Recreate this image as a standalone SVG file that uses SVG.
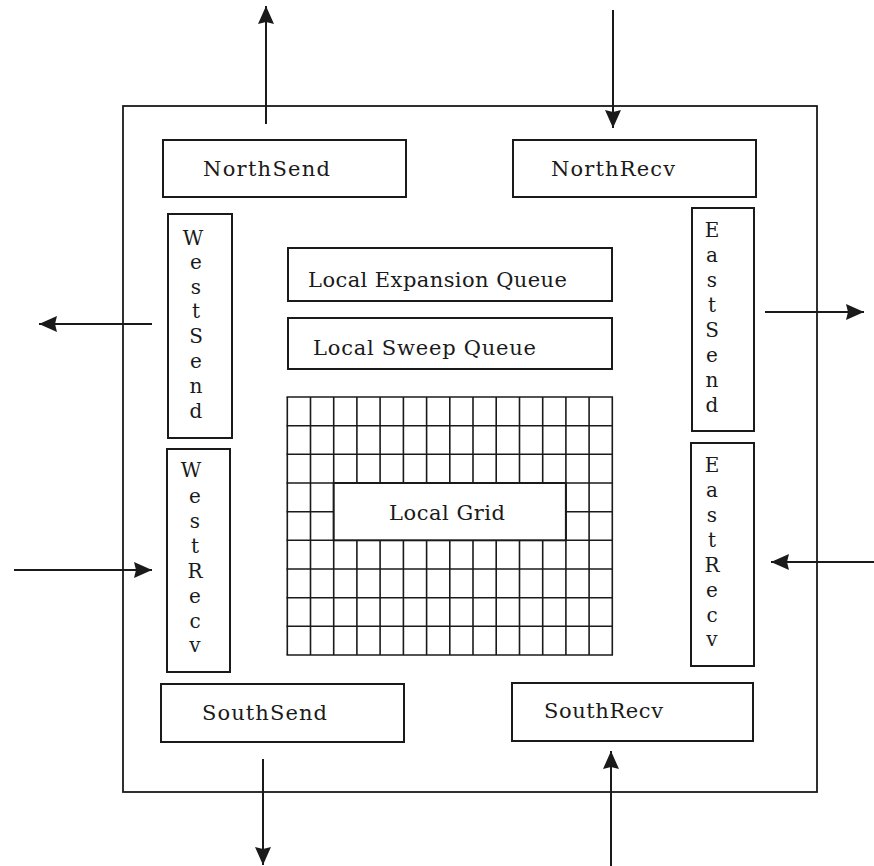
<svg xmlns="http://www.w3.org/2000/svg" width="874" height="866" viewBox="0 0 874 866">
<style>
.box{fill:#fff;stroke:#1a1a1a;stroke-width:2}
.outer{fill:none;stroke:#1a1a1a;stroke-width:1.8}
.grid line{stroke:#1a1a1a;stroke-width:1.6}
.lbl{font-family:"DejaVu Serif","Liberation Serif",serif;font-size:21px;fill:#1a1a1a}
.vl{font-family:"DejaVu Serif","Liberation Serif",serif;font-size:20px;fill:#1a1a1a;text-anchor:middle}
.conn line{stroke:#1a1a1a;stroke-width:2;marker-end:url(#ah)}
</style>
<defs>
<marker id="ah" markerUnits="userSpaceOnUse" markerWidth="19" markerHeight="16" refX="18" refY="8" orient="auto">
<path d="M0,0 L18,8 L0,16 L2,8 z" fill="#1a1a1a"/>
</marker>
</defs>
<rect width="874" height="866" fill="#fff"/>
<rect id="node" class="outer" x="123" y="106" width="694" height="686"/>

<g id="NorthSend"><rect class="box" x="163" y="140" width="243" height="57"/><text class="lbl" x="203" y="176" textLength="127">NorthSend</text></g>
<g id="NorthRecv"><rect class="box" x="513" y="140" width="243" height="57"/><text class="lbl" x="551" y="176" textLength="124">NorthRecv</text></g>
<g id="SouthSend"><rect class="box" x="161" y="684" width="243" height="58"/><text class="lbl" x="202" y="720" textLength="125">SouthSend</text></g>
<g id="SouthRecv"><rect class="box" x="512" y="683" width="241" height="58"/><text class="lbl" x="544" y="718" textLength="119">SouthRecv</text></g>

<g id="LocalExpansionQueue"><rect class="box" x="288" y="248" width="324" height="53"/><text class="lbl" x="308" y="287" textLength="259">Local Expansion Queue</text></g>
<g id="LocalSweepQueue"><rect class="box" x="288" y="318" width="324" height="51"/><text class="lbl" x="313" y="355" textLength="223">Local Sweep Queue</text></g>

<g id="WestSend"><rect class="box" x="168" y="214" width="64" height="224"/>
<text class="vl" x="193" y="245">W</text><text class="vl" x="196" y="269">e</text><text class="vl" x="196" y="294">s</text><text class="vl" x="196" y="318">t</text><text class="vl" x="196" y="343">S</text><text class="vl" x="196" y="368">e</text><text class="vl" x="196" y="393">n</text><text class="vl" x="196" y="418">d</text></g>
<g id="WestRecv"><rect class="box" x="167" y="449" width="63" height="223"/>
<text class="vl" x="191" y="477">W</text><text class="vl" x="195" y="503">e</text><text class="vl" x="195" y="528">s</text><text class="vl" x="195" y="553">t</text><text class="vl" x="195" y="578">R</text><text class="vl" x="195" y="603">e</text><text class="vl" x="195" y="628">c</text><text class="vl" x="195" y="652">v</text></g>
<g id="EastSend"><rect class="box" x="692" y="208" width="62" height="223"/>
<text class="vl" x="712" y="237">E</text><text class="vl" x="712" y="262">a</text><text class="vl" x="712" y="287">s</text><text class="vl" x="712" y="312">t</text><text class="vl" x="712" y="337">S</text><text class="vl" x="712" y="362">e</text><text class="vl" x="712" y="387">n</text><text class="vl" x="712" y="412">d</text></g>
<g id="EastRecv"><rect class="box" x="691" y="443" width="63" height="223"/>
<text class="vl" x="712" y="472">E</text><text class="vl" x="712" y="497">a</text><text class="vl" x="712" y="522">s</text><text class="vl" x="712" y="547">t</text><text class="vl" x="712" y="572">R</text><text class="vl" x="712" y="597">e</text><text class="vl" x="712" y="622">c</text><text class="vl" x="712" y="646">v</text></g>

<g id="LocalGrid">
<g class="grid">
<line x1="287.3" y1="397" x2="287.3" y2="655"/><line x1="310.5" y1="397" x2="310.5" y2="655"/><line x1="333.7" y1="397" x2="333.7" y2="655"/><line x1="356.9" y1="397" x2="356.9" y2="655"/><line x1="380.1" y1="397" x2="380.1" y2="655"/><line x1="403.4" y1="397" x2="403.4" y2="655"/><line x1="426.6" y1="397" x2="426.6" y2="655"/><line x1="449.8" y1="397" x2="449.8" y2="655"/><line x1="473" y1="397" x2="473" y2="655"/><line x1="496.2" y1="397" x2="496.2" y2="655"/><line x1="519.5" y1="397" x2="519.5" y2="655"/><line x1="542.7" y1="397" x2="542.7" y2="655"/><line x1="565.9" y1="397" x2="565.9" y2="655"/><line x1="589.1" y1="397" x2="589.1" y2="655"/><line x1="612.3" y1="397" x2="612.3" y2="655"/>
<line x1="286.5" y1="397" x2="613" y2="397"/><line x1="286.5" y1="425.7" x2="613" y2="425.7"/><line x1="286.5" y1="454.3" x2="613" y2="454.3"/><line x1="286.5" y1="483" x2="613" y2="483"/><line x1="286.5" y1="511.7" x2="613" y2="511.7"/><line x1="286.5" y1="540.3" x2="613" y2="540.3"/><line x1="286.5" y1="569" x2="613" y2="569"/><line x1="286.5" y1="597.7" x2="613" y2="597.7"/><line x1="286.5" y1="626.3" x2="613" y2="626.3"/><line x1="286.5" y1="655" x2="613" y2="655"/>
</g>
<rect class="box" x="333.7" y="483" width="232.2" height="57.3"/>
<text class="lbl" x="389" y="520" textLength="116">Local Grid</text>
</g>

<g id="connectors" class="conn">
<line x1="266" y1="124" x2="266" y2="6"/>
<line x1="613" y1="10" x2="613" y2="128"/>
<line x1="152" y1="324" x2="39" y2="324"/>
<line x1="14" y1="570" x2="152" y2="570"/>
<line x1="765" y1="312" x2="864" y2="312"/>
<line x1="874" y1="562" x2="771" y2="562"/>
<line x1="263" y1="759" x2="263" y2="865"/>
<line x1="611" y1="866" x2="611" y2="751"/>
</g>
</svg>
